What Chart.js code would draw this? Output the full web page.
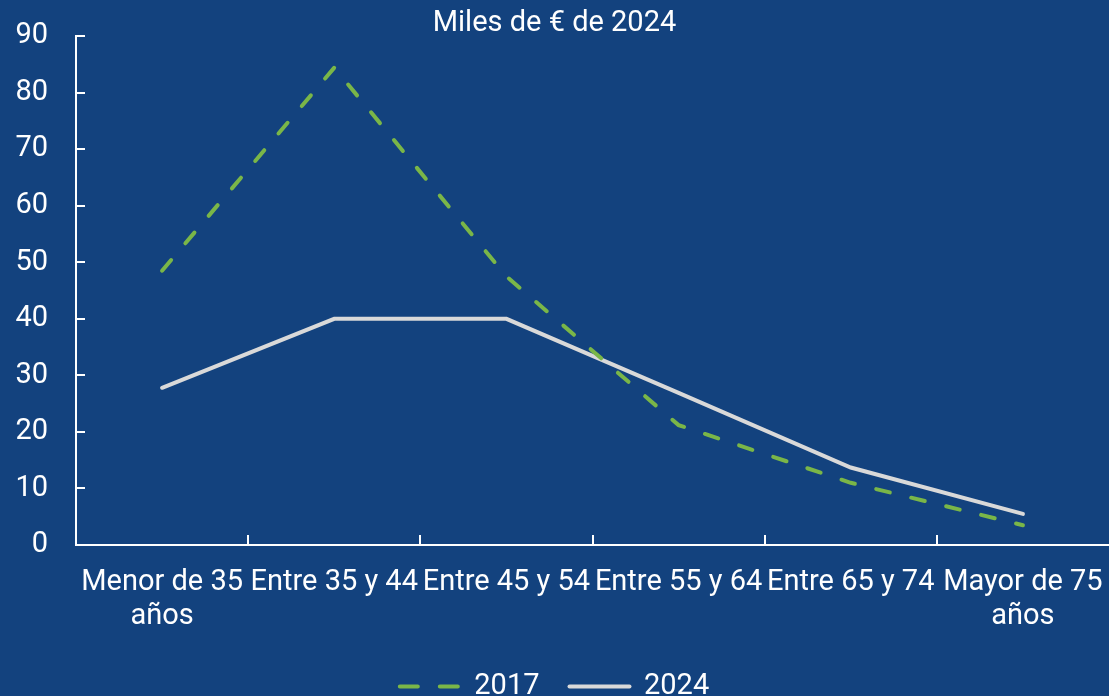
<!DOCTYPE html>
<html>
<head>
<meta charset="utf-8">
<script src="https://cdn.jsdelivr.net/npm/chart.js@4.4.1/dist/chart.umd.min.js"></script>
<style>
  html, body { margin: 0; padding: 0; background: #13427e; }
  #wrap { width: 1109px; height: 696px; position: relative; }
</style>
</head>
<body>
<div id="wrap"><canvas id="chart"></canvas></div>
<script>
const categories = [
  ["Menor de 35", "años"],
  "Entre 35 y 44",
  "Entre 45 y 54",
  "Entre 55 y 64",
  "Entre 65 y 74",
  ["Mayor de 75", "años"],
];
const values2017 = [48.5, 84.4, 47.5, 21.2, 11.0, 3.5];
const values2024 = [27.8, 40.0, 40.0, 26.9, 13.7, 5.5];
const yTicks = [0, 10, 20, 30, 40, 50, 60, 70, 80, 90];

const WHITE = "#ffffff";
const GREEN = "#7ab648";
const GREY = "#d9d9d9";
const FONT = "Roboto";

// small tick marks pointing into the plot, like the original
const innerTicks = {
  id: "innerTicks",
  afterDraw(chart) {
    const { ctx, chartArea, scales } = chart;
    ctx.save();
    ctx.strokeStyle = WHITE;
    ctx.lineWidth = 2;
    ctx.beginPath();
    scales.y.ticks.forEach((t, i) => {
      const y = Math.round(scales.y.getPixelForTick(i));
      ctx.moveTo(chartArea.left, y);
      ctx.lineTo(chartArea.left + 9, y);
    });
    for (let i = 0; i < categories.length - 1; i++) {
      const x = Math.round((scales.x.getPixelForTick(i) + scales.x.getPixelForTick(i + 1)) / 2);
      ctx.moveTo(x, chartArea.bottom);
      ctx.lineTo(x, chartArea.bottom - 10);
    }
    ctx.stroke();
    ctx.restore();
  },
};

const ctx = document.getElementById("chart").getContext("2d");

new Chart(ctx, {
  type: "line",
  data: {
    labels: categories,
    datasets: [
      {
        label: "2017",
        data: values2017,
        borderColor: GREEN,
        backgroundColor: GREEN,
        borderWidth: 4,
        borderDash: [14, 22],
        borderCapStyle: "round",
        pointRadius: 0,
        tension: 0,
      },
      {
        label: "2024",
        data: values2024,
        borderColor: GREY,
        backgroundColor: GREY,
        borderWidth: 4,
        borderCapStyle: "round",
        borderJoinStyle: "miter",
        pointRadius: 0,
        tension: 0,
      },
    ],
  },
  options: {
    responsive: true,
    maintainAspectRatio: false,
    animation: false,
    layout: {
      padding: { left: 0, right: 0, top: 0, bottom: -15 },
    },
    plugins: {
      title: {
        display: true,
        text: "Miles de € de 2024",
        color: WHITE,
        font: { family: FONT, size: 29, weight: "normal", lineHeight: 0.83 },
        padding: { top: 12, bottom: 0 },
      },
      legend: {
        position: "bottom",
        labels: {
          color: WHITE,
          font: { family: FONT, size: 29 },
          usePointStyle: true,
          pointStyle: "line",
          pointStyleWidth: 60,
          boxWidth: 60,
          padding: 30,
          generateLabels(chart) {
            const items = Chart.defaults.plugins.legend.labels.generateLabels(chart);
            return items.map((item) => {
              const ds = chart.data.datasets[item.datasetIndex];
              item.lineDash = ds.borderDash ? [18, 22] : [];
              item.lineWidth = 4;
              item.lineCap = "round";
              item.strokeStyle = ds.borderColor;
              item.fillStyle = ds.borderColor;
              return item;
            });
          },
        },
      },
      tooltip: { enabled: false },
    },
    scales: {
      x: {
        offset: true,
        grid: { display: false, drawTicks: false, offset: true },
        border: { display: true, color: WHITE, width: 2 },
        ticks: {
          color: WHITE,
          font: { family: FONT, size: 29, lineHeight: 1.2 },
          padding: 20,
          maxRotation: 0,
          autoSkip: false,
        },
        afterFit(scale) {
          scale.height = 97;
          scale.paddingLeft = 0;
          scale.paddingRight = 0;
        },
      },
      y: {
        min: 0,
        max: 90,
        afterBuildTicks(scale) {
          scale.ticks = yTicks.map((v) => ({ value: v }));
        },
        grid: { display: false, drawTicks: false },
        border: { display: true, color: WHITE, width: 2 },
        ticks: {
          color: WHITE,
          font: { family: FONT, size: 29 },
          padding: 28,
        },
        afterFit(scale) {
          scale.width = 76;
          scale.paddingTop = 0;
          scale.paddingBottom = 0;
        },
      },
    },
  },
  plugins: [innerTicks],
});
</script>
</body>
</html>
